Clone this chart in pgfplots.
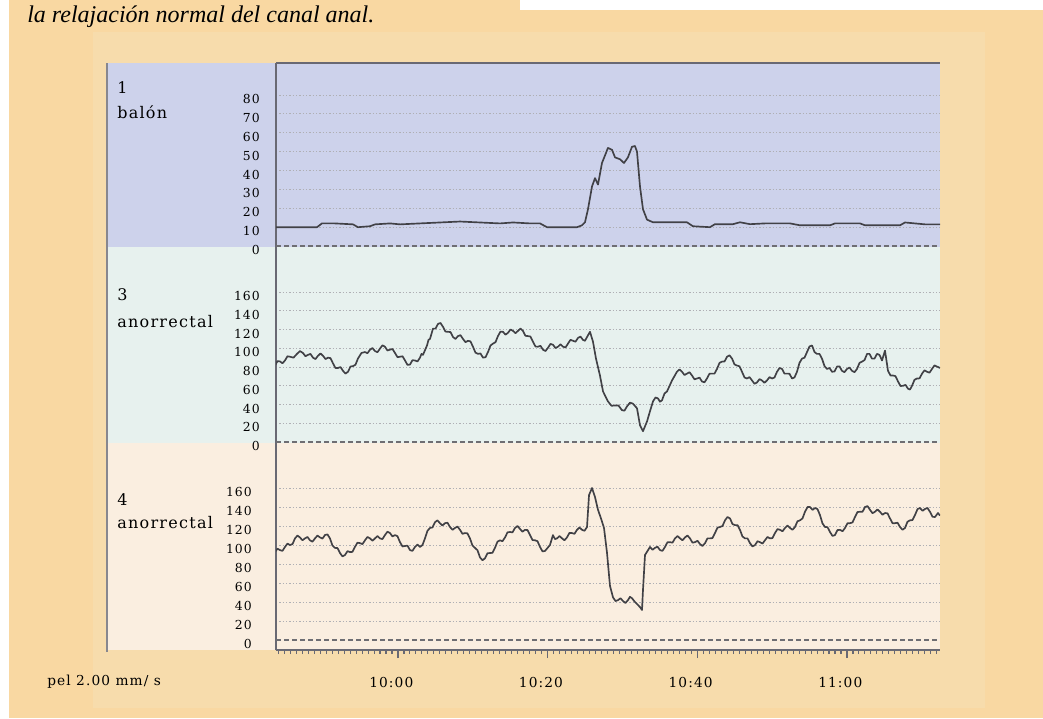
\documentclass[border=0pt]{standalone}
\usepackage{pgfplots}
\pgfplotsset{compat=1.18}
\usepackage{graphicx}
\usepackage{fontspec}
\setmainfont{DejaVu Serif}[LetterSpace=8]
\newfontfamily\capit{Liberation Serif}[UprightFont=* Italic]
\definecolor{bgout}{RGB}{249,216,162}
\definecolor{bgin}{RGB}{247,220,172}
\definecolor{pblue}{RGB}{205,210,235}
\definecolor{pgreen}{RGB}{231,241,238}
\definecolor{ppeach}{RGB}{250,238,224}
\definecolor{axgray}{RGB}{105,105,115}
\definecolor{gridgray}{RGB}{175,175,180}
\definecolor{zerogray}{RGB}{110,110,115}
\definecolor{trace}{RGB}{65,65,70}
\newcommand\tickfont{\fontsize{9.3}{11}\selectfont}
\newcommand\timefont{\fontsize{10.3}{12}\selectfont}
\newcommand\labfont{\fontsize{12}{14}\selectfont}
\pgfplotsset{
  strip/.style={
    scale only axis, width=498pt,
    xmin=-16.3, xmax=72.43,
    axis y line*=left,
    axis line style={-, draw=axgray, line width=1.1pt},
    ytick style={draw=none},
    yticklabel style={font=\tickfont, anchor=east, inner sep=0pt, xshift=-12pt, yshift=-3pt},
    ymajorgrids,
    major grid style={draw=gridgray, line width=0.7pt, dash pattern=on 0.9pt off 1.6pt},
    extra y ticks={0},
    extra y tick style={ymajorgrids=true, major grid style={draw=zerogray, line width=0.9pt, dash pattern=on 3.5pt off 2.5pt}},
    /pgf/number format/assume math mode=true,
  },
  tr/.style={draw=trace, line width=1.25pt, line join=round, mark=none},
}
\begin{document}
\begin{tikzpicture}[x=0.75pt,y=-0.75pt]
\path[use as bounding box] (0,0) rectangle (1043,718);
\fill[bgout] (0,0) rectangle (1043,718);
\fill[white] (0,0) rectangle (9,718);
\fill[white] (520,0) rectangle (1043,10);
\fill[bgin] (93,32) rectangle (985,708);
\fill[pblue] (107,63) rectangle (940,247);
\fill[pgreen] (107,247) rectangle (940,443);
\fill[ppeach] (107,443) rectangle (940,650);
\draw[draw=axgray!80, line width=1.4pt] (107,63) -- (107,652);

\node[anchor=base west, inner sep=0pt, font=\capit\fontsize{18}{21}\selectfont] at (27,22) {la relajación normal del canal anal.};

\node[anchor=base west, inner sep=0pt, font=\labfont] at (117,93) {1};
\node[anchor=base west, inner sep=0pt, font=\labfont] at (117,118) {balón};
\node[anchor=base west, inner sep=0pt, font=\labfont] at (117,300) {3};
\node[anchor=base west, inner sep=0pt, font=\labfont] at (117,327) {anorrectal};
\node[anchor=base west, inner sep=0pt, font=\labfont] at (117,505) {4};
\node[anchor=base west, inner sep=0pt, font=\labfont] at (117,528) {anorrectal};
\node[anchor=base west, inner sep=0pt, font=\timefont] at (47,685) {pel 2.00 mm/ s};

% panel 1: balon
\begin{axis}[strip, at={(207pt,-185.25pt)}, anchor=south west, height=138pt,
  axis x line*=top, xtick=\empty,
  ymin=-0.5, ymax=97, ytick={10,20,...,80}]
\addplot[tr] coordinates {
(-16.44,10) (-14.43,10) (-12.43,10) (-10.82,10) (-10.16,12) (-8.42,12) (-6.01,11.5) (-5.35,10) (-3.74,10.5) (-3.07,11.5) (-1.07,12) (0.27,11.5) (2.94,12) (5.61,12.5) (8.29,13) (10.96,12.5) (13.63,12) (15.37,12.5) (17.64,12) (18.98,12) (19.91,10) (21.38,10) (23.92,10) (24.59,11) (24.99,12.6) (25.39,19.5) (25.93,31.6) (26.33,36) (26.73,32.6) (27.26,44) (27.66,48) (28.06,52) (28.60,51) (29.00,47) (29.67,46) (30.20,44) (30.73,47) (31.27,52.6) (31.67,53) (31.94,50) (32.34,31.6) (32.74,19.5) (33.28,14) (34.08,12.6) (38.62,12.6) (39.42,10.5) (41.69,10) (42.36,11.6) (44.77,11.6) (45.70,12.6) (47.04,11.6) (49.04,12) (52.39,12) (53.72,11) (57.73,11) (58.40,12) (61.74,12) (62.41,11) (67.09,11) (67.75,12.5) (69.09,12) (70.43,11.5) (72.43,11.5)
};
\end{axis}

% panel 2: anorrectal 3
\begin{axis}[strip, at={(207pt,-332.25pt)}, anchor=south west, height=147pt,
  axis x line=none,
  ymin=-1, ymax=208, ytick={20,40,...,160}]
\addplot[tr] coordinates {
(-16.44,81.6) (-16.105,86.3) (-15.77,86) (-15.435,84.0) (-15.10,87) (-14.765,91.5) (-14.43,91) (-13.965,90.0) (-13.50,94) (-13.10,97.0) (-12.70,95) (-12.365,91.5) (-12.03,93) (-11.695,94.0) (-11.36,90) (-11.025,88.5) (-10.69,92) (-10.355,94.5) (-10.02,92) (-9.685,88.5) (-9.35,90) (-9.02,89.5) (-8.69,84) (-8.355,79.0) (-8.02,79) (-7.685,80.0) (-7.35,76) (-7.015,73.0) (-6.68,75) (-6.345,80.5) (-6.01,81) (-5.68,82.5) (-5.35,89) (-4.88,95.0) (-4.41,96) (-4.075,94.75) (-3.74,98.5) (-3.405,100.25) (-3.07,97) (-2.74,95.8) (-2.41,99.6) (-2.075,103.15) (-1.74,101.7) (-1.405,97.6) (-1.07,98.5) (-0.735,99.25) (-0.40,95) (-0.065,90.5) (0.27,91) (0.605,91.5) (0.94,87) (1.27,82.3) (1.60,82.6) (1.935,87.3) (2.27,87) (2.605,86.0) (2.94,90) (3.14,94.0) (3.34,93) (3.88,103) (4.08,109) (4.28,110) (4.68,121) (5.015,121) (5.35,126) (5.68,127) (6.01,123) (6.345,117.8) (6.68,117.6) (7.015,117.3) (7.35,112) (7.685,110) (8.02,113) (8.355,114) (8.69,110) (9.02,106.5) (9.35,108) (9.685,107.35) (10.02,101.7) (10.355,95.35) (10.69,94) (11.025,94.5) (11.36,90) (11.695,90.5) (12.03,96) (12.365,103) (12.70,105) (13.03,106.5) (13.36,113) (13.695,117.8) (14.03,117.6) (14.365,114.55) (14.70,116.5) (15.035,120.05) (15.37,118.6) (15.705,116.1) (16.04,118.6) (16.37,121.1) (16.70,118.6) (17.035,113.3) (17.37,113) (17.705,112.5) (18.04,107) (18.375,101.85) (18.71,101.7) (19.045,102.6) (19.38,98.5) (19.715,97.05) (20.05,100.6) (20.38,104.7) (20.71,103.8) (21.045,100.25) (21.38,101.7) (21.715,104.2) (22.05,101.7) (22.385,100.85) (22.72,105) (23.055,109) (23.39,108) (23.72,107) (24.05,111) (24.385,112.5) (24.72,109) (24.99,108) (25.26,112) (25.66,117.6) (26.06,107) (26.46,89) (26.99,71) (27.40,54) (28.06,43.4) (28.53,38.7) (29.00,39) (29.465,39) (29.93,34) (30.265,33.5) (30.60,38) (31.0,42) (31.40,41) (31.94,36) (32.34,18) (32.74,11.6) (33.28,22) (33.68,33) (34.08,43.4) (34.41,47.5) (34.74,46.6) (35.01,43.05) (35.28,44.5) (35.615,51.75) (35.95,54) (36.62,65.7) (37.28,75) (37.615,77.5) (37.95,75) (38.285,71.5) (38.62,73) (38.955,74.5) (39.29,71) (39.625,66.9) (39.96,67.8) (40.295,68.7) (40.63,64.6) (40.96,63.7) (41.29,67.8) (41.625,72.9) (41.96,73) (42.295,73.0) (42.63,78) (42.965,84.4) (43.30,85.8) (43.635,85.9) (43.97,91) (44.305,92.5) (44.64,89) (44.97,82.8) (45.30,81.6) (45.635,80.8) (45.97,75) (46.305,68.9) (46.64,67.8) (46.975,69.25) (47.31,65.7) (47.645,62.15) (47.98,63.6) (48.31,67.15) (48.64,65.7) (48.975,63.2) (49.31,65.7) (49.645,69.25) (49.98,67.8) (50.315,68.9) (50.65,75) (50.985,79) (51.32,78) (51.65,73) (51.98,73) (52.315,72.9) (52.65,67.8) (52.985,68.9) (53.32,75) (53.655,84.5) (53.99,89) (54.325,90) (54.66,96) (54.995,102) (55.33,103) (55.66,96) (55.99,94) (56.325,94) (56.66,89) (56.995,81) (57.33,78) (57.665,79) (58.00,75) (58.335,75.25) (58.67,80.5) (59.0,80.75) (59.33,76) (59.665,74.5) (60.00,78) (60.335,79.5) (60.67,76) (61.005,74.5) (61.34,78) (61.675,84.4) (62.01,85.8) (62.345,87.4) (62.68,94) (63.01,94) (63.34,89) (63.675,89) (64.01,94) (64.345,93) (64.68,87) (65.08,97.5) (65.48,76) (65.815,71) (66.15,71) (66.485,70.3) (66.82,64.6) (67.155,59.8) (67.49,60) (67.82,61) (68.15,57) (68.42,56) (68.69,60) (69.025,66.4) (69.36,67.8) (69.695,67.9) (70.03,73) (70.36,76.5) (70.69,75) (71.025,74) (71.36,78) (71.695,81.75) (72.03,80.5) (72.43,79)
};
\end{axis}

% panel 3: anorrectal 4
\begin{axis}[strip, at={(207pt,-487.5pt)}, anchor=south west, height=155.25pt,
  axis x line*=bottom,
  ymin=-10.5, ymax=207.4, ytick={20,40,...,160},
  xtick={0,20,40,60}, xticklabels={10:00,10:20,10:40,11:00},
  minor xtick={-16,-15.2,...,72}, tick align=outside,
  xtick style={draw=axgray, line width=0.8pt},
  major tick length=6pt, minor tick length=3pt,
  xticklabel style={font=\timefont, anchor=base, inner sep=0pt, xshift=-5pt, yshift=-22pt}]
\addplot[tr] coordinates {
(-16.44,92.6) (-16.105,96.15) (-15.77,94.7) (-15.435,93.85) (-15.10,98) (-14.765,101.5) (-14.43,100) (-14.095,101) (-13.76,107) (-13.43,110) (-13.10,108) (-12.765,105) (-12.43,107) (-12.095,108.5) (-11.76,105) (-11.425,103.5) (-11.09,107) (-10.755,110) (-10.42,108) (-10.09,106.75) (-9.76,110.5) (-9.425,111.25) (-9.09,107) (-8.755,99.5) (-8.42,97) (-8.085,96.8) (-7.75,91.6) (-7.415,88.05) (-7.08,89.5) (-6.745,93.55) (-6.41,92.6) (-6.08,92.8) (-5.75,98) (-5.415,102.5) (-5.08,102) (-4.745,101) (-4.41,105) (-4.075,108.5) (-3.74,107) (-3.405,104.5) (-3.07,107) (-2.74,109.5) (-2.41,107) (-2.075,106.25) (-1.74,110.5) (-1.405,114.05) (-1.07,112.6) (-0.735,109.05) (-0.40,110.5) (-0.065,109.25) (0.27,103) (0.605,98.5) (0.94,99) (1.27,99.35) (1.60,94.7) (1.935,93.85) (2.27,98) (2.605,100.5) (2.94,98) (3.275,100) (3.61,107) (3.945,115) (4.28,118) (4.61,118.5) (4.94,124) (5.275,126) (5.61,123) (5.945,120.5) (6.28,123) (6.615,123.5) (6.95,119) (7.285,116) (7.62,118) (7.955,119.5) (8.29,116) (8.62,111.8) (8.95,112.6) (9.285,112.3) (9.62,107) (9.955,99.5) (10.29,97) (10.625,94.5) (10.96,87) (11.295,84) (11.63,86) (11.96,91.3) (12.29,91.6) (12.625,91.8) (12.96,97) (13.295,103.5) (13.63,105) (13.965,104) (14.30,108) (14.635,113.35) (14.97,113.7) (15.305,113.35) (15.64,118) (15.97,120) (16.30,117) (16.635,114) (16.97,116) (17.305,115.75) (17.64,110.5) (17.975,105.25) (18.31,105) (18.645,104) (18.98,98) (19.31,93.35) (19.64,93.7) (20.31,100) (20.71,110.5) (20.98,106.25) (21.25,107) (21.585,109.5) (21.92,107) (22.25,105) (22.58,108) (22.915,112.8) (23.25,112.6) (23.585,111.8) (23.92,116) (24.255,118.5) (24.59,116) (24.925,115) (25.26,119) (25.53,152.6) (25.93,160) (26.33,150.5) (26.73,137) (27.13,128) (27.53,118) (27.93,92) (28.33,57) (28.73,45) (29.065,41) (29.40,42) (29.735,44) (30.07,41) (30.40,39) (30.73,42) (31.0,45.5) (31.27,44) (31.67,40) (32.34,34.7) (32.61,31.6) (32.74,52.6) (33.01,89.5) (33.68,98) (34.01,95) (34.34,97) (34.675,98.35) (35.01,94.7) (35.345,93.85) (35.68,98) (36.015,103) (36.35,103) (36.685,102.5) (37.02,107) (37.355,109.5) (37.69,107) (38.02,105) (38.35,108) (38.685,110) (39.02,107) (39.355,102.5) (39.69,103) (40.025,104.5) (40.36,101) (40.695,99) (41.03,102) (41.36,107) (41.69,107) (42.025,107.3) (42.36,112.6) (42.695,118.3) (43.03,119) (43.365,120) (43.70,126) (44.035,129.5) (44.37,128) (44.705,122) (45.04,121) (45.37,121) (45.70,116) (46.035,109) (46.37,107) (46.705,107) (47.04,102) (47.375,98.5) (47.71,100) (48.045,104) (48.38,103) (48.71,101.5) (49.04,105) (49.375,108.5) (49.71,107) (50.045,107.3) (50.38,112.6) (50.715,116.8) (51.05,116) (51.385,114.5) (51.72,118) (52.055,120.5) (52.39,118) (52.72,116) (53.05,119) (53.385,125) (53.72,126) (54.055,128) (54.39,135) (54.725,140) (55.06,140) (55.395,137) (55.73,139) (56.06,137.8) (56.39,131.6) (56.725,122.8) (57.06,119) (57.395,118.85) (57.73,113.7) (58.065,109.6) (58.40,110.5) (58.735,115.75) (59.07,116) (59.405,114.5) (59.74,118) (60.07,123) (60.40,123) (60.735,123.75) (61.07,129.5) (61.405,134.75) (61.74,135) (62.075,135) (62.41,140) (62.745,141) (63.08,137) (63.41,133.5) (63.74,135) (64.075,137.5) (64.41,135) (64.745,131.85) (65.08,133.7) (65.415,133.35) (65.75,128) (66.085,123) (66.42,123) (66.755,123.5) (67.09,119) (67.42,116) (67.75,118) (68.085,124.5) (68.42,126) (68.755,126.3) (69.09,131.6) (69.425,137.8) (69.76,139) (70.095,136) (70.43,138) (70.76,139) (71.09,135) (71.425,129.75) (71.76,129.5) (72.16,133.7) (72.43,131)
};
\end{axis}
\end{tikzpicture}
\end{document}
